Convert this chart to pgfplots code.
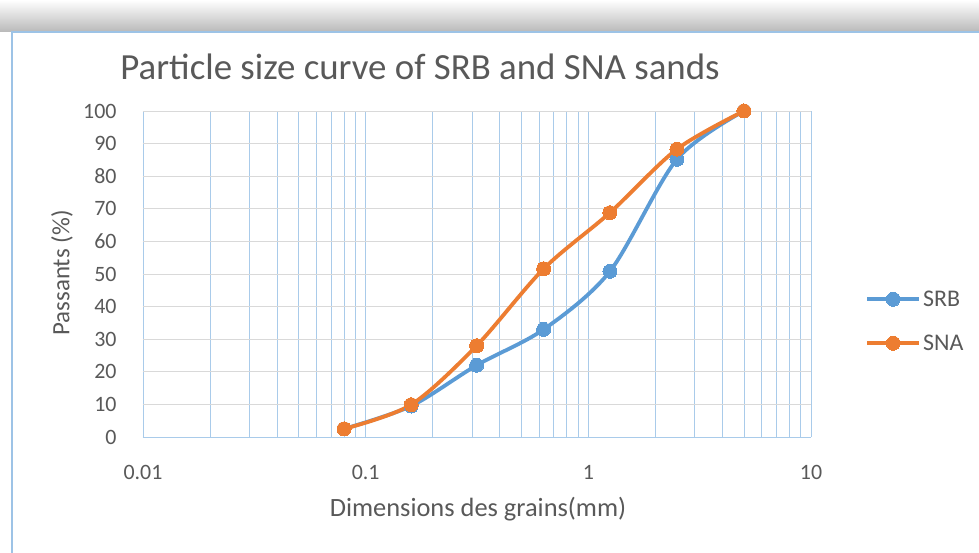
\documentclass[border=0pt]{standalone}
\usepackage{pgfplots}
\pgfplotsset{compat=1.18}
\usepackage{fontspec}
\setmainfont{Carlito}
\definecolor{srb}{HTML}{5B9BD5}
\definecolor{sna}{HTML}{ED7D31}
\definecolor{txt}{HTML}{595959}
\definecolor{vgrid}{HTML}{A9CBEA}
\definecolor{hgrid}{HTML}{D9D9D9}
\definecolor{frame}{HTML}{9DC3E6}
\pgfplotstableread{
x y
0.08 2.5
0.16 9.5
0.315 22
0.63 33
1.25 50.8
2.5 85.2
5 100
}\srbdata
\pgfplotstableread{
x y
0.08 2.5
0.16 9.9
0.315 28
0.63 51.6
1.25 68.8
2.5 88.3
5 100
}\snadata
\begin{document}
\begin{tikzpicture}[x=1bp,y=1bp]
\useasboundingbox (0,0) rectangle (979,553);
\shade[top color=white, bottom color=gray!55] (0,521) rectangle (979,553);
\fill[white] (12,0) rectangle (979,521);
\draw[frame, line width=1.2bp] (12,-2) -- (12,521) -- (981,521);
\node[txt, font=\fontsize{37}{40}\selectfont, anchor=center] at (420,486) {Particle size curve of SRB and SNA sands};
\node[txt, font=\fontsize{26.5}{29}\selectfont, anchor=center] at (478,44) {Dimensions des grains(mm)};
\node[txt, font=\fontsize{25}{28}\selectfont, anchor=center, rotate=90] at (62,280) {Passants (\%)};
\begin{axis}[
  at={(143bp,116bp)}, anchor=south west,
  scale only axis, width=668bp, height=326bp,
  xmode=log, log basis x=10,
  xmin=0.01, xmax=10, ymin=0, ymax=100,
  xtick={0.01,0.1,1,10}, xticklabels={0.01,0.1,1,10},
  minor xtick={0.02,0.03,0.04,0.05,0.06,0.07,0.08,0.09,0.2,0.3,0.4,0.5,0.6,0.7,0.8,0.9,2,3,4,5,6,7,8,9},
  ytick={0,10,...,100},
  xmajorgrids, xminorgrids, ymajorgrids,
  major x grid style={vgrid, line width=0.8bp},
  minor x grid style={vgrid, line width=0.8bp},
  major y grid style={hgrid, line width=0.8bp},
  axis line style={draw=none},
  axis x line*=bottom,
  x axis line style={draw=vgrid, line width=0.8bp},
  axis y line*=left,
  y axis line style={draw=none},
  tick style={draw=none},
  major tick length=0pt, minor tick length=0pt,
  /pgf/number format/assume math mode=true,
  ticklabel style={font=\fontsize{22}{24}\selectfont, text=txt},
  yticklabel style={xshift=-23bp},
  xticklabel style={yshift=-25bp},
  clip=false,
  legend style={at={(1.081,0.355)}, anchor=west, draw=none, fill=none,
    font=\fontsize{24}{26}\selectfont, text=txt, row sep=23bp,
    inner sep=0pt, cells={anchor=west}},
  legend image code/.code={
    \draw[#1, mark=none] (0bp,0bp) -- (52bp,0bp);
    \draw[#1, only marks] plot coordinates {(26bp,0bp)};
  },
]
\addplot[srb, line width=3.8bp, smooth, tension=0.5, mark=*, mark size=7bp, mark options={fill=srb, draw=srb, line width=0bp}] table[x=x,y=y] {\srbdata};
\addlegendentry{SRB}
\addplot[sna, line width=3.8bp, smooth, tension=0.5, mark=*, mark size=7bp, mark options={fill=sna, draw=sna, line width=0bp}] table[x=x,y=y] {\snadata};
\addlegendentry{SNA}
\end{axis}
\end{tikzpicture}
\end{document}
